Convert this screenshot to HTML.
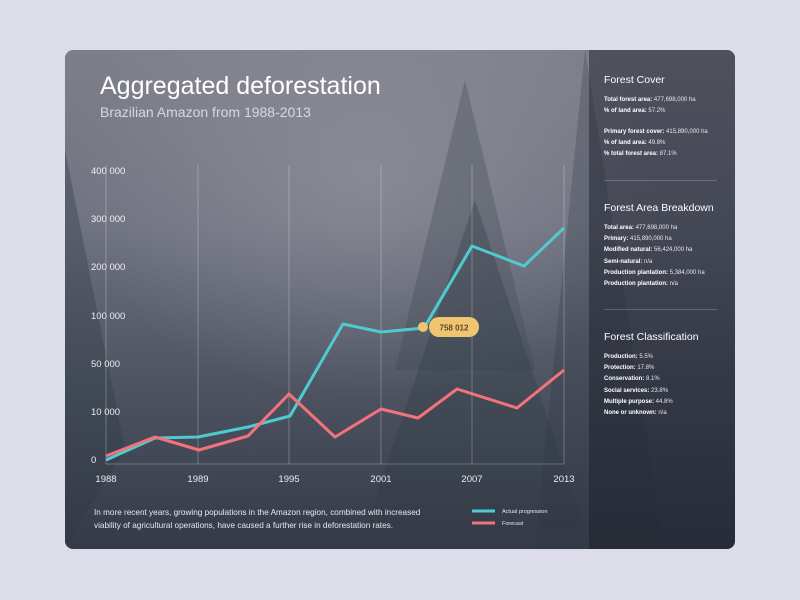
<!DOCTYPE html>
<html><head><style>
body{margin:0;width:800px;height:600px;background:#dcdde8;font-family:"Liberation Sans",sans-serif;position:relative;overflow:hidden}
.card{position:absolute;left:65px;top:50px;width:670px;height:499px;border-radius:8px;overflow:hidden;
background:linear-gradient(180deg,#7e7f89 0%,#6f7280 35%,#4f5563 65%,#353a48 100%)}
.side{position:absolute;left:524px;top:0;width:146px;height:499px;background:linear-gradient(180deg,rgba(40,44,56,0.55),rgba(30,34,44,0.6))}
.side h3{font-weight:normal;font-size:10.5px;color:#fff;margin:0;position:absolute;left:15px}
.side p{margin:0;font-size:6px;color:#e8e8ee;line-height:11.2px;position:absolute;left:15px}
.side b{color:#fff}
.hr{position:absolute;left:15px;width:113px;height:1px;background:rgba(255,255,255,0.2)}
</style></head><body>
<div class="card">
<svg width="670" height="499" style="position:absolute;left:0;top:0">
<defs><radialGradient id="f" cx="0.45" cy="0.25" r="0.45"><stop offset="0" stop-color="#9a9aa3" stop-opacity="0.55"/><stop offset="1" stop-color="#9a9aa3" stop-opacity="0"/></radialGradient></defs>
<rect width="670" height="499" fill="url(#f)"/>
<polygon points="400,30 470,320 330,320" fill="#3d4650" opacity="0.3"/>
<polygon points="410,150 520,480 300,480" fill="#323b45" opacity="0.35"/>
<polygon points="0,100 60,400 0,499" fill="#2f3843" opacity="0.35"/>
<polygon points="520,0 600,499 470,499" fill="#2c3440" opacity="0.25"/>
</svg>
<div style="position:absolute;left:35px;top:22px;font-size:25px;color:#fff">Aggregated deforestation</div>
<div style="position:absolute;left:35px;top:54px;font-size:14px;color:#d8d8e0">Brazilian Amazon from 1988-2013</div>
<svg width="670" height="499" style="position:absolute;left:0;top:0;font-family:'Liberation Sans',sans-serif">
<g stroke="rgba(255,255,255,0.25)" stroke-width="1">
<line x1="41" y1="115" x2="41" y2="414"/><line x1="133" y1="115" x2="133" y2="414"/><line x1="224" y1="115" x2="224" y2="414"/><line x1="316" y1="115" x2="316" y2="414"/><line x1="407" y1="115" x2="407" y2="414"/><line x1="499" y1="115" x2="499" y2="414"/>
<line x1="41" y1="414" x2="499" y2="414"/></g>
<g fill="#fff" font-size="9.5" opacity="0.9">
<text x="26" y="124">400 000</text><text x="26" y="172">300 000</text><text x="26" y="220">200 000</text><text x="26" y="269">100 000</text><text x="26" y="317">50 000</text><text x="26" y="365">10 000</text><text x="26" y="413">0</text>
</g>
<g fill="#fff" font-size="9.5" text-anchor="middle" opacity="0.9">
<text x="41" y="432">1988</text><text x="133" y="432">1989</text><text x="224" y="432">1995</text><text x="316" y="432">2001</text><text x="407" y="432">2007</text><text x="499" y="432">2013</text></g>
<polyline fill="none" stroke="#4ecbcf" stroke-width="3" stroke-linejoin="round" points="41,410 90,388 133,387 183,377 225,366 278,274 316,282 359,278 407,196 459,216 499,178"/>
<polyline fill="none" stroke="#f4737a" stroke-width="3" stroke-linejoin="round" points="41,406 90,387 134,400 183,386 224,344 270,387 316,359 353,368 392,339 452,358 499,320"/>
<circle cx="358" cy="277" r="5" fill="#f0c570"/>
<rect x="364" y="267" width="50" height="20" rx="10" fill="#f0c570"/>
<text x="389" y="280.5" font-size="8" font-weight="bold" fill="#5a4a30" text-anchor="middle">758 012</text>
<text x="29" y="465" font-size="8.2" fill="#e8e8ee">In more recent years, growing populations in the Amazon region, combined with increased</text>
<text x="29" y="478" font-size="8.2" fill="#e8e8ee">viability of agricultural operations, have caused a further rise in deforestation rates.</text>
<line x1="407" y1="461" x2="430" y2="461" stroke="#4ecbcf" stroke-width="3"/>
<line x1="407" y1="473" x2="430" y2="473" stroke="#f4737a" stroke-width="3"/>
<text x="437" y="463" font-size="5.5" fill="#e8e8ee">Actual progression</text>
<text x="437" y="475" font-size="5.5" fill="#e8e8ee">Forecast</text>
</svg>
<div class="side">
<h3 style="top:24px">Forest Cover</h3>
<p style="top:45px"><b>Total forest area:</b> 477,698,000 ha<br><b>% of land area:</b> 57.2%</p>
<p style="top:77px"><b>Primary forest cover:</b> 415,890,000 ha<br><b>% of land area:</b> 49.8%<br><b>% total forest area:</b> 87.1%</p>
<div class="hr" style="top:130px"></div>
<h3 style="top:152px">Forest Area Breakdown</h3>
<p style="top:173px"><b>Total area:</b> 477,698,000 ha<br><b>Primary:</b> 415,890,000 ha<br><b>Modified natural:</b> 56,424,000 ha<br><b>Semi-natural:</b> n/a<br><b>Production plantation:</b> 5,384,000 ha<br><b>Production plantation:</b> n/a</p>
<div class="hr" style="top:259px"></div>
<h3 style="top:281px">Forest Classification</h3>
<p style="top:302px"><b>Production:</b> 5.5%<br><b>Protection:</b> 17.8%<br><b>Conservation:</b> 8.1%<br><b>Social services:</b> 23.8%<br><b>Multiple purpose:</b> 44.8%<br><b>None or unknown:</b> n/a</p>
</div>
</div>
</body></html>
